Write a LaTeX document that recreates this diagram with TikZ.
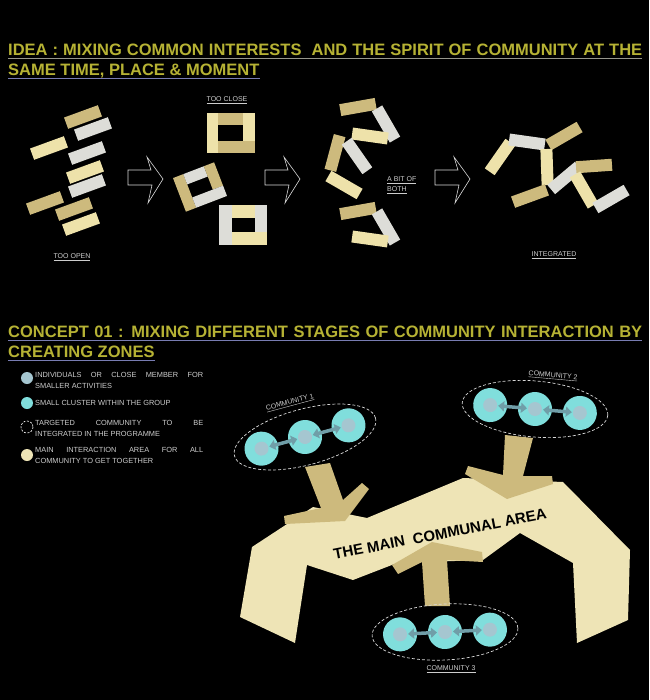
\documentclass[tikz,border=0pt]{standalone}
\usepackage{fontspec}
\setmainfont{Liberation Sans}
\usetikzlibrary{arrows.meta}

\definecolor{barcream}{RGB}{238,226,170}
\definecolor{bartan}{RGB}{205,186,125}
\definecolor{bargrey}{RGB}{221,221,216}
\definecolor{areacol}{RGB}{238,228,182}
\definecolor{titleol}{RGB}{182,178,52}
\definecolor{lineblue}{RGB}{120,124,178}
\definecolor{linegrey}{RGB}{150,150,140}
\definecolor{cyanball}{RGB}{128,222,220}
\definecolor{corecol}{RGB}{165,198,208}
\definecolor{linkcol}{RGB}{112,158,168}
\definecolor{labelgrey}{RGB}{205,205,205}

\begin{document}
\begin{tikzpicture}[x=1pt, y=-1pt,
  title/.style={anchor=base west, inner sep=0, text=titleol, font=\fontsize{16.5}{20}\selectfont\bfseries},
  tag/.style={inner sep=0, text=labelgrey, font=\fontsize{7}{10}\selectfont},
  legend/.style={anchor=north west, inner sep=0, text=labelgrey, align=left, font=\fontsize{7.4}{10.7}\selectfont},
  outarrow/.style={draw=white!85!black, line width=0.6pt, line join=miter},
  link/.style={linkcol, line width=3.5pt, {Triangle[width=10pt,length=6pt]}-{Triangle[width=10pt,length=6pt]}},
  under/.style={line width=1pt}]

  \useasboundingbox (0,0) rectangle (649,700);
  \fill[black] (0,0) rectangle (649,700);

  % --- Idea title ---
  \node[title] (idea1) at (8,56)
      {\makebox[634pt][s]{IDEA : MIXING COMMON INTERESTS \ AND THE SPIRIT OF COMMUNITY AT THE}};
  \node[title] (idea2) at (8,76) {SAME TIME, PLACE \& MOMENT};
  \draw[under, linegrey] ([yshift=-3]idea1.base west) -- ([yshift=-3]idea1.base east);
  \draw[under, lineblue] ([yshift=-3]idea2.base west) -- ([yshift=-3]idea2.base east);

  % --- Too open ---
  \foreach \x/\y/\a/\c in {83/117/20/bartan,93/129/20/bargrey,49/148/20/barcream,87/153/20/bargrey,
      85/172/20/barcream,87/186/20/bargrey,45/203/20/bartan,74/209/20/bartan,81/224/20/barcream}
     \fill[\c, shift={(\x,\y)}, rotate=\a] (-18,-6) rectangle (18,6);
  \node[tag] (open) at (72,257) {\underline{TOO OPEN}};

  % --- Too close ---
  \fill[barcream] (207,113) rectangle (218,153);
  \fill[bartan] (218,113) rectangle (243,125);
  \fill[barcream] (243,113) rectangle (255,141);
  \fill[bartan] (218,141) rectangle (255,153);
  \begin{scope}[shift={(200,187)}, rotate=21]
    \fill[bartan] (-22,-18) rectangle (-11,18);
    \fill[bargrey] (-11,-18) rectangle (11,-7);
    \fill[bartan] (11,-18) rectangle (22,7);
    \fill[bargrey] (-11,7) rectangle (22,18);
  \end{scope}
  \fill[bargrey] (219,205) rectangle (232,245);
  \fill[barcream] (232,205) rectangle (255,218);
  \fill[bargrey] (255,205) rectangle (267,245);
  \fill[barcream] (232,232) rectangle (267,245);
  \node[tag] (close) at (227,100) {\underline{TOO CLOSE}};

  % --- A bit of both ---
  \foreach \x/\y/\a/\c in {358/107/10/bartan,386/124/-60/bargrey,370/136/-8/barcream,
      335/153/75/bartan,357/156/-55/bargrey,344/185/-30/barcream,
      358/211/10/bartan,386/227/-60/bargrey,370/239/-8/barcream}
     \fill[\c, shift={(\x,\y)}, rotate=\a] (-18,-6) rectangle (18,6);
  \node[tag, anchor=west, align=left] (both) at (387,185) {\underline{A BIT OF}\\\underline{BOTH}};

  % --- Integrated ---
  \foreach \x/\y/\a/\c in {500/157/55/barcream,527/142/-8/bargrey,564/136/30/bartan,
      547/167/92/barcream,530/196/20/bartan,565/178/40/bargrey,594/166/4/bartan,
      584/190/-60/barcream,611/199/30/bargrey}
     \fill[\c, shift={(\x,\y)}, rotate=\a] (-18,-6) rectangle (18,6);
  \node[tag] (integ) at (554,255) {\underline{INTEGRATED}};

  % --- Outline arrows ---
  \foreach \dx in {0,137,307}
     \draw[outarrow, shift={(\dx,0)}] (128,170) -- (151,170) -- (147,157) -- (163,179)
         -- (148,203) -- (152,185) -- (128,185) -- cycle;

  % --- Concept title ---
  \node[title] (con1) at (8,337)
      {\makebox[634pt][s]{CONCEPT 01 : MIXING DIFFERENT STAGES OF COMMUNITY INTERACTION BY}};
  \node[title] (con2) at (8,357) {CREATING ZONES};
  \draw[under, lineblue] ([yshift=-3]con1.base west) -- ([yshift=-3]con1.base east);
  \draw[under, lineblue] ([yshift=-3]con2.base west) -- ([yshift=-3]con2.base east);

  % --- Legend ---
  \fill[corecol] (27,378) circle (6);
  \fill[cyanball] (27,403) circle (6);
  \draw[white, dashed, line width=0.6pt, dash pattern=on 2pt off 1.5pt] (27,427) circle (6);
  \fill[areacol] (27,455) circle (6);
  \node[legend] (leg1) at (35,372.5)
      {\makebox[168pt][s]{INDIVIDUALS OR CLOSE MEMBER FOR}\\SMALLER ACTIVITIES};
  \node[legend] (leg2) at (35,400.5) {SMALL CLUSTER WITHIN THE GROUP};
  \node[legend] (leg3) at (35,420) {\makebox[168pt][s]{TARGETED COMMUNITY TO BE}\\INTEGRATED IN THE PROGRAMME};
  \node[legend] (leg4) at (35,447.5) {\makebox[168pt][s]{MAIN INTERACTION AREA FOR ALL}\\COMMUNITY TO GET TOGETHER};

  % --- Main communal area ---
  \fill[areacol] (240,617) -- (252,547) -- (313,507) -- (367,518) -- (463,478) -- (563,482)
      -- (630,550) -- (628,620) -- (577,643) -- (573,563) -- (520,533) -- (483,560)
      -- (397,563) -- (353,580) -- (307,565) -- (295,643) -- cycle;
  \fill[bartan] (305,467) -- (330,463) -- (343,500) -- (362,483) -- (369,489) -- (345,521)
      -- (285,524) -- (284,516) -- (321,508) -- cycle;
  \fill[bartan] (505,435) -- (533,438) -- (523,476) -- (552,476) -- (553,484) -- (507,499)
      -- (465,474) -- (468,466) -- (503,475) -- cycle;
  \fill[bartan] (425,606) -- (422,562) -- (398,574) -- (392,565) -- (432,542) -- (482,552)
      -- (483,562) -- (447,560) -- (450,606) -- cycle;
  \node[inner sep=0, rotate=11, font=\fontsize{15}{18}\selectfont\bfseries] (area) at (440,534)
      {THE MAIN \ COMMUNAL AREA};

  % --- Communities ---
  \foreach \cx/\cy/\ang in {305/437/15, 535/409/-5, 445/632/3} {
    \begin{scope}[shift={(\cx,\cy)}, rotate=\ang]
      \draw[white!85!black, line width=0.7pt, dash pattern=on 3pt off 2pt] (0,0) ellipse (73 and 28);
      \foreach \k in {-45,0,45} {
        \fill[cyanball] (\k,0) circle (17);
        \fill[corecol] (\k,0) circle (7);
      }
      \draw[link] (-37,0) -- (-8,0);
      \draw[link] (8,0) -- (37,0);
    \end{scope}
  }
  \node[tag, rotate=15] (com1) at (290,403) {\underline{COMMUNITY 1}};
  \node[tag, rotate=-5] (com2) at (553,376) {\underline{COMMUNITY 2}};
  \node[tag] (com3) at (451,669) {\underline{COMMUNITY 3}};

\end{tikzpicture}
\end{document}
